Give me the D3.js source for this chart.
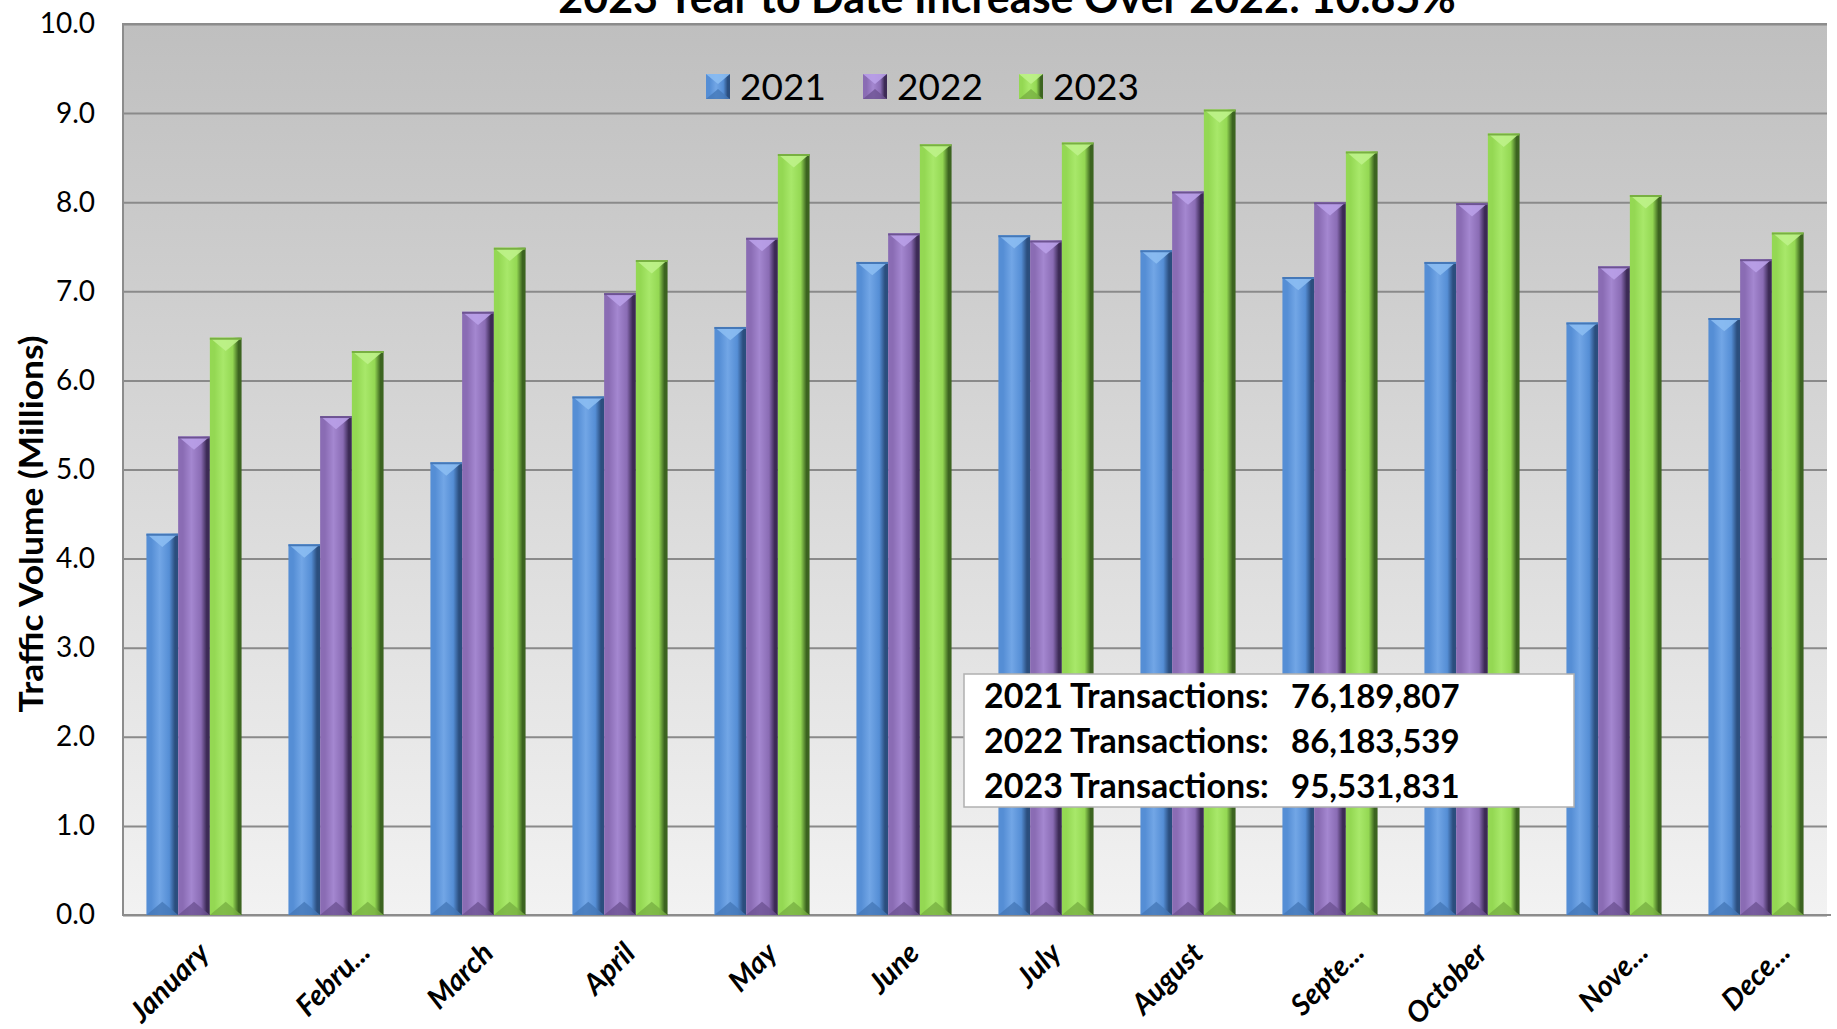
<!DOCTYPE html>
<html>
<head>
<meta charset="utf-8">
<script src="https://cdn.jsdelivr.net/npm/d3@7"></script>
<style>
  html, body { margin: 0; padding: 0; background: #ffffff; }
  svg { display: block; font-family: Lato, "Open Sans", sans-serif; }
</style>
</head>
<body>
<svg id="chart" width="1837" height="1029"></svg>
<script>
// ---------- data ----------
const months = ["January", "Febru...", "March", "April", "May", "June", "July", "August", "Septe...", "October", "Nove...", "Dece..."];
const seriesNames = ["2021", "2022", "2023"];
const values2021 = [4.28, 4.16, 5.08, 5.82, 6.60, 7.33, 7.63, 7.46, 7.16, 7.33, 6.65, 6.70];
const values2022 = [5.37, 5.60, 6.77, 6.98, 7.60, 7.65, 7.57, 8.12, 8.00, 7.99, 7.28, 7.36];
const values2023 = [6.48, 6.33, 7.49, 7.35, 8.54, 8.65, 8.67, 9.04, 8.57, 8.77, 8.08, 7.66];
const yTicks = [0, 1, 2, 3, 4, 5, 6, 7, 8, 9, 10];
const titleText = "2023 Year to Date Increase Over 2022: 10.85%";
const yTitle = "Traffic Volume (Millions)";
const noteLabels = ["2021 Transactions:", "2022 Transactions:", "2023 Transactions:"];
const noteValues = ["76,189,807", "86,183,539", "95,531,831"];

const seriesValues = [values2021, values2022, values2023];
const palette = [
  { base: "#558ed5", light: "#72a6e6", dark: "#2b4e7e", cap: "#8bbcf2", foot: "#4578b8" },
  { base: "#8a6cb4", light: "#a487d0", dark: "#3c2a55", cap: "#b9a0e8", foot: "#6d5392" },
  { base: "#94d853", light: "#a8e86a", dark: "#3c6420", cap: "#bef28a", foot: "#78b042" }
];

// ---------- layout ----------
const svg = d3.select("#chart");
const plot = { left: 123, right: 1827, top: 24, bottom: 915 };

const x = d3.scaleBand().domain(months).range([plot.left, plot.right]).paddingInner(0.33).paddingOuter(0.165);
const x1 = d3.scaleBand().domain(seriesNames).range([0, x.bandwidth()]).padding(0);
const y = d3.scaleLinear().domain([0, 10]).range([plot.bottom, plot.top]);

const defs = svg.append("defs");
const bg = defs.append("linearGradient").attr("id", "bg").attr("x1", 0).attr("y1", 0).attr("x2", 0).attr("y2", 1);
bg.append("stop").attr("offset", "0%").attr("stop-color", "#bfbfbf");
bg.append("stop").attr("offset", "100%").attr("stop-color", "#f2f2f2");

palette.forEach((p, i) => {
  const g = defs.append("linearGradient").attr("id", "bar" + i).attr("x1", 0).attr("y1", 0).attr("x2", 1).attr("y2", 0);
  g.append("stop").attr("offset", "0%").attr("stop-color", p.base);
  g.append("stop").attr("offset", "15%").attr("stop-color", p.base);
  g.append("stop").attr("offset", "42%").attr("stop-color", p.light);
  g.append("stop").attr("offset", "72%").attr("stop-color", p.base);
  g.append("stop").attr("offset", "90%").attr("stop-color", p.dark);
  g.append("stop").attr("offset", "100%").attr("stop-color", p.dark);
});

// plot background
svg.append("rect")
  .attr("x", plot.left).attr("y", plot.top)
  .attr("width", plot.right - plot.left).attr("height", plot.bottom - plot.top)
  .attr("fill", "url(#bg)");

// gridlines
const grid = svg.append("g").attr("transform", `translate(${plot.left},0)`)
  .call(d3.axisLeft(y).tickValues(yTicks).tickSize(-(plot.right - plot.left)).tickFormat(""));
grid.select(".domain").remove();
grid.selectAll("line").attr("stroke", "#8a8a8a").attr("stroke-width", 2);

// plot border (left, top, bottom)
svg.append("path")
  .attr("d", `M${plot.right},${plot.top} H${plot.left} V${plot.bottom} H${plot.right + 4}`)
  .attr("fill", "none").attr("stroke", "#8c8c8c").attr("stroke-width", 2);

// bars
const groups = svg.append("g").selectAll("g")
  .data(months).join("g")
  .attr("transform", d => `translate(${x(d)},0)`);

const bars = groups.selectAll("g.bar")
  .data((m, mi) => seriesNames.map((s, si) => ({ s, si, v: seriesValues[si][mi] })))
  .join("g").attr("class", "bar");

bars.append("rect")
  .attr("x", d => x1(d.s))
  .attr("y", d => y(d.v))
  .attr("width", x1.bandwidth())
  .attr("height", d => y(0) - y(d.v))
  .attr("fill", d => `url(#bar${d.si})`);

// top chevron highlight
bars.append("path")
  .attr("d", d => {
    const x0 = x1(d.s), w = x1.bandwidth(), t = y(d.v);
    return `M${x0},${t} H${x0 + w} L${x0 + w * 0.5},${t + w * 0.42} Z`;
  })
  .attr("fill", d => palette[d.si].cap).attr("opacity", 0.9);
// top edge line
bars.append("line")
  .attr("x1", d => x1(d.s)).attr("x2", d => x1(d.s) + x1.bandwidth())
  .attr("y1", d => y(d.v) + 1).attr("y2", d => y(d.v) + 1)
  .attr("stroke", d => palette[d.si].foot).attr("stroke-width", 2);
// bottom chevron shade
bars.append("path")
  .attr("d", d => {
    const x0 = x1(d.s), w = x1.bandwidth(), b = y(0);
    return `M${x0},${b} H${x0 + w} L${x0 + w * 0.5},${b - w * 0.42} Z`;
  })
  .attr("fill", d => palette[d.si].foot).attr("opacity", 0.8);

// y axis labels
const yAxis = svg.append("g").attr("transform", `translate(${plot.left},0)`)
  .call(d3.axisLeft(y).tickValues(yTicks).tickSize(0).tickPadding(28).tickFormat(d3.format(".1f")));
yAxis.select(".domain").remove();
yAxis.selectAll("text").attr("font-size", 28).attr("fill", "#000").attr("font-family", "Lato, sans-serif");

// x axis labels (truncated labels sit a little further right, as in the source)
const xAxis = svg.append("g").attr("transform", `translate(0,${plot.bottom})`)
  .call(d3.axisBottom(x).tickSize(0).tickPadding(0));
xAxis.select(".domain").remove();
xAxis.selectAll("text")
  .attr("font-size", 29).attr("font-weight", "bold").attr("font-style", "italic")
  .attr("fill", "#000").attr("font-family", "Lato, sans-serif")
  .attr("text-anchor", "end")
  .attr("dy", 0)
  .attr("transform", d => `translate(${d.endsWith("...") ? 36 : 17},${d.endsWith("...") ? 39 : 40}) rotate(-45)`);

// title
svg.append("text")
  .attr("x", 1007).attr("y", 13)
  .attr("text-anchor", "middle")
  .attr("font-size", 43).attr("font-weight", "bold").attr("fill", "#000")
  .text(titleText);

// y title
svg.append("text")
  .attr("transform", "translate(43,524) rotate(-90)")
  .attr("text-anchor", "middle")
  .attr("font-size", 33).attr("font-weight", "bold").attr("fill", "#000")
  .attr("textLength", 377).attr("lengthAdjust", "spacingAndGlyphs")
  .text(yTitle);

// legend
const legendX = [706, 863, 1019];
const legend = svg.append("g").selectAll("g").data(seriesNames).join("g")
  .attr("transform", (d, i) => `translate(${legendX[i]},74)`);
legend.append("rect").attr("width", 24).attr("height", 25).attr("fill", (d, i) => `url(#bar${i})`);
legend.append("path").attr("d", "M0,0 H24 L12,10 Z").attr("fill", (d, i) => palette[i].cap).attr("opacity", 0.9);
legend.append("path").attr("d", "M0,25 H24 L12,15 Z").attr("fill", (d, i) => palette[i].foot).attr("opacity", 0.8);
legend.append("text").attr("x", 34).attr("y", 13).attr("dy", "0.36em")
  .attr("font-size", 37).attr("fill", "#000").text(d => d);

// annotation box
const note = svg.append("g");
note.append("rect").attr("x", 964).attr("y", 674).attr("width", 610).attr("height", 133)
  .attr("fill", "#fff").attr("stroke", "#b0b0b0").attr("stroke-width", 1.5);
const noteY = [708, 753, 798];
note.selectAll("text.lbl").data(noteLabels).join("text").attr("class", "lbl")
  .attr("x", 984).attr("y", (d, i) => noteY[i])
  .attr("font-size", 34).attr("font-weight", "bold").attr("fill", "#000").text(d => d);
note.selectAll("text.val").data(noteValues).join("text").attr("class", "val")
  .attr("x", 1291).attr("y", (d, i) => noteY[i])
  .attr("font-size", 33).attr("font-weight", "bold").attr("fill", "#000").text(d => d);
</script>
</body>
</html>
